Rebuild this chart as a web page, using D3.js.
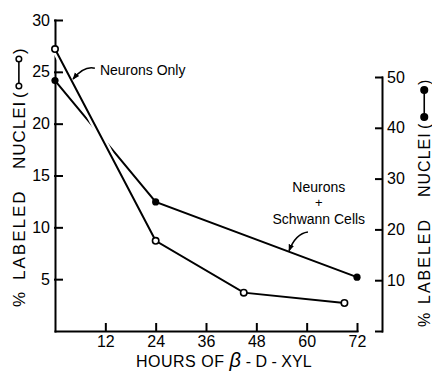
<!DOCTYPE html>
<html>
<head>
<meta charset="utf-8">
<script src="https://cdn.jsdelivr.net/npm/d3@7"></script>
<style>
  body { margin: 0; background: #fff; }
  svg { display: block; font-family: "Liberation Sans", Arial, sans-serif; }
  .axis .domain, .axis .tick line { stroke: #000; stroke-width: 2; stroke-linecap: square; }
  .axis text { fill: #000; font-size: 16px; }
</style>
</head>
<body>
<svg id="chart" width="432" height="373"></svg>
<script>
// tick values
var hourTicks = [12, 24, 36, 48, 60, 72];
var leftTicks = [5, 10, 15, 20, 25, 30];
var rightTicks = [0, 10, 20, 30, 40, 50];

// neurons only (open circles, left axis)
var neuronHours = [0, 24, 45, 69];
var neuronPct = [27.2, 8.7, 3.7, 2.7];

// neurons + schwann cells (filled circles, right axis)
var schwannHours = [0, 24, 72];
var schwannPct = [49.3, 25.4, 10.6];

var svg = d3.select("#chart");
svg.append("rect").attr("width", 432).attr("height", 373).attr("fill", "#fff");

var x = d3.scaleLinear().domain([0, 72]).range([55, 357]);
var yL = d3.scaleLinear().domain([0, 30]).range([331, 20]);
var yR = d3.scaleLinear().domain([0, 50]).range([331, 77]);

// axes
function fixAxis(g) {
  g.attr("font-size", null).attr("font-family", null);
}

svg.append("g").attr("class", "axis")
  .attr("transform", "translate(" + x(0) + ",0)")
  .call(d3.axisLeft(yL).tickValues(leftTicks).tickSize(-7).tickSizeOuter(0).tickPadding(5))
  .call(fixAxis);

svg.append("g").attr("class", "axis")
  .attr("transform", "translate(0," + yL(0) + ")")
  .call(d3.axisBottom(x).tickValues(hourTicks).tickSize(-7).tickSizeOuter(0).tickPadding(5))
  .call(fixAxis);

svg.append("g").attr("class", "axis")
  .attr("transform", "translate(382,0)")
  .call(d3.axisRight(yR).tickValues(rightTicks).tickSize(-6).tickSizeOuter(0).tickPadding(5)
    .tickFormat(function(d) { return d ? d : ""; }))
  .call(fixAxis);

// lines
var neuronData = neuronHours.map(function(h, i) { return [h, neuronPct[i]]; });
var schwannData = schwannHours.map(function(h, i) { return [h, schwannPct[i]]; });

var lineL = d3.line().x(function(d) { return x(d[0]); }).y(function(d) { return yL(d[1]); });
var lineR = d3.line().x(function(d) { return x(d[0]); }).y(function(d) { return yR(d[1]); });

svg.append("path").attr("d", lineR(schwannData))
  .attr("fill", "none").attr("stroke", "#000").attr("stroke-width", 2);

// white casing makes the break where the two lines cross
svg.append("path").attr("d", lineL(neuronData))
  .attr("fill", "none").attr("stroke", "#fff").attr("stroke-width", 7);
svg.append("path").attr("d", lineL(neuronData))
  .attr("fill", "none").attr("stroke", "#000").attr("stroke-width", 2);

svg.selectAll(".dotR").data(schwannData).enter().append("circle")
  .attr("cx", function(d) { return x(d[0]); })
  .attr("cy", function(d) { return yR(d[1]); })
  .attr("r", 3.6).attr("fill", "#000");

svg.selectAll(".dotL").data(neuronData).enter().append("circle")
  .attr("cx", function(d) { return x(d[0]); })
  .attr("cy", function(d) { return yL(d[1]); })
  .attr("r", 3.2).attr("fill", "#fff").attr("stroke", "#000").attr("stroke-width", 1.6);

// rotated axis titles with the little legend symbol
function sideLabel(bx, by, size, parts, c1, c2, closeU, filled) {
  var g = svg.append("g").attr("transform", "translate(" + bx + "," + by + ") rotate(-90)");
  parts.forEach(function(p) {
    g.append("text").attr("x", p[1]).attr("y", 0)
      .attr("font-size", size).style("letter-spacing", p[2] + "px").text(p[0]);
  });
  var v = -size * 0.36;
  g.append("line").attr("x1", c1).attr("x2", c2).attr("y1", v).attr("y2", v)
    .attr("stroke", "#000").attr("stroke-width", 1.6);
  [c1, c2].forEach(function(c) {
    g.append("circle").attr("cx", c).attr("cy", v).attr("r", filled ? 3.3 : 2.8)
      .attr("fill", filled ? "#000" : "#fff").attr("stroke", "#000").attr("stroke-width", 1.5);
  });
  g.append("text").attr("x", closeU).attr("y", 0).attr("font-size", size).text(")");
}

sideLabel(25, 307, 17, [["%", 0, 0], ["LABELED", 27, 2], ["NUCLEI", 138, 1], ["(", 209, 0]], 221, 248, 253, false);
sideLabel(430, 327, 16, [["%", 0, 0], ["LABELED", 23, 2], ["NUCLEI", 130, 1], ["(", 198, 0]], 210, 237, 242, true);

// x axis title
var xt = svg.append("text").attr("x", 136).attr("y", 367).attr("font-size", 16)
  .style("letter-spacing", "0.5px");
xt.append("tspan").text("HOURS OF ");
xt.append("tspan").attr("font-size", 20).attr("font-style", "italic").text("β");
xt.append("tspan").text(" - D - XYL").style("letter-spacing", "0px");

// annotations
var defs = svg.append("defs");
defs.append("marker").attr("id", "head").attr("viewBox", "0 0 10 10")
  .attr("refX", 9).attr("refY", 5).attr("markerWidth", 7).attr("markerHeight", 7)
  .attr("markerUnits", "userSpaceOnUse").attr("orient", "auto")
  .append("path").attr("d", "M0,1L10,5L0,9Z").attr("fill", "#000");

svg.append("text").attr("x", x(10.7)).attr("y", yL(24.7)).attr("font-size", 14)
  .text("Neurons Only");
svg.append("path")
  .attr("d", "M" + x(9.5) + "," + yL(25.35) + "Q" + x(6.9) + "," + yL(25.6) + " " + x(4.3) + "," + yL(24.3))
  .attr("fill", "none").attr("stroke", "#000").attr("stroke-width", 1.6).attr("marker-end", "url(#head)");

svg.append("text").attr("x", x(62.9)).attr("y", yR(27.4)).attr("font-size", 14)
  .attr("text-anchor", "middle").text("Neurons");
svg.append("text").attr("x", x(62.9)).attr("y", yR(24.4)).attr("font-size", 13)
  .attr("text-anchor", "middle").text("+");
svg.append("text").attr("x", x(62.9)).attr("y", yR(21.1)).attr("font-size", 14)
  .attr("text-anchor", "middle").text("Schwann Cells");
svg.append("path")
  .attr("d", "M" + x(60.3) + "," + yR(19.5) + "Q" + x(57.4) + "," + yR(19.2) + " " + x(55.8) + "," + yR(15.8))
  .attr("fill", "none").attr("stroke", "#000").attr("stroke-width", 1.6).attr("marker-end", "url(#head)");
</script>
</body>
</html>
